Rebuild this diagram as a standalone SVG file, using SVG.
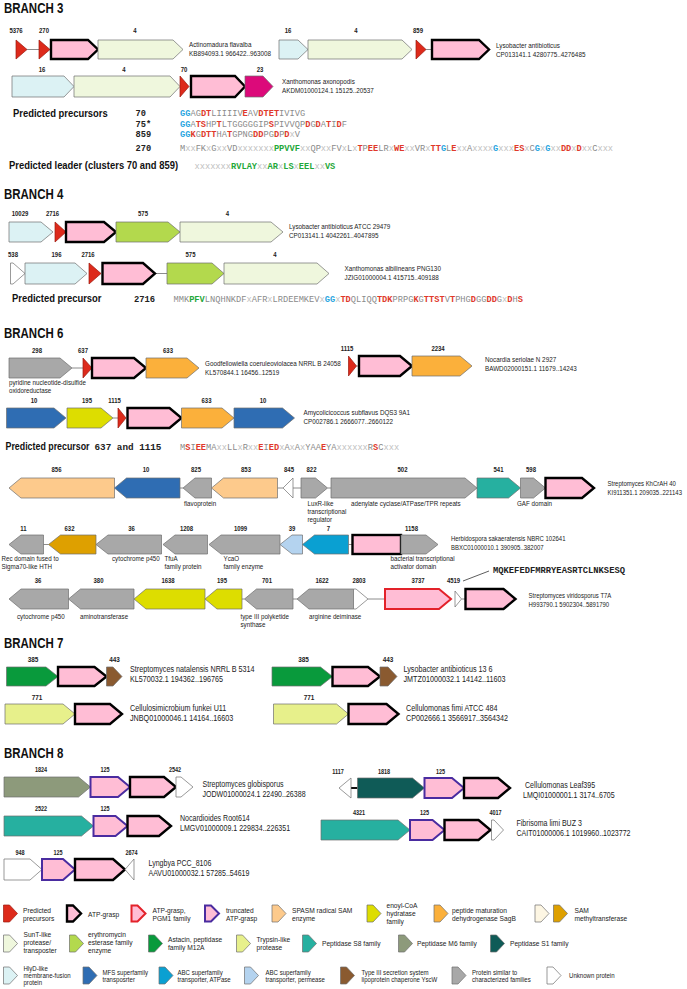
<svg xmlns="http://www.w3.org/2000/svg" width="687" height="989" viewBox="0 0 687 989">
<style>
text{font-family:'Liberation Sans',Arial,sans-serif;fill:#222}
.h,.o,.pb{transform-box:fill-box;transform-origin:0 0;transform:scaleX(.82)}
.s{transform-box:fill-box;transform-origin:0 0;transform:scaleX(.88);font-size:7.1px}
.lg,.lg3{transform-box:fill-box;transform-origin:0 0;transform:scaleX(.95)}
.lg{font-size:7px}
.lg3{font-size:6.4px}
.pb{font-size:11.5px;font-weight:bold;fill:#111}
.n{transform-box:fill-box;transform-origin:50% 0;transform:scaleX(.82);font-weight:bold;text-anchor:middle}
.h{font-size:14px;font-weight:bold;fill:#111}
.n3{font-size:7.3px}.n7{font-size:7.8px}.n8{font-size:6.7px}
.o3{font-size:7.7px}.o6{font-size:7.3px}.o7{font-size:8.8px}.o8{font-size:8.6px}
.m{font-family:'Liberation Mono',monospace;font-size:8.7px;fill:#8a8a8a}
.mb{font-family:'Liberation Mono',monospace;font-weight:bold;fill:#222}
.x{fill:#c0c0c0;font-weight:normal}
.b{fill:#2aa6df;font-weight:bold}
.r{fill:#e0392b;font-weight:bold}
.gr{fill:#1fa83a;font-weight:bold}
polygon,rect{stroke:#6e6e6e;stroke-width:0.7}
.pre{fill:#dd2a1b;stroke:#9b1a10}
.atp{fill:#ffbdd5;stroke:#000;stroke-width:2.4}
.pgm{fill:#ffbdd5;stroke:#e3222a;stroke-width:2}
.tru{fill:#ffbdd5;stroke:#4a2ca0;stroke-width:2}
.sun{fill:#eff7dd}
.hly{fill:#dcf2f4}
.mag{fill:#dc0a7a}
.ery{fill:#b3d94d}
.gry{fill:#a8a8a8}
.sag{fill:#fbb03b}
.mfs{fill:#2f6db3}
.eno{fill:#dddd00}
.spa{fill:#fdca8c}
.s8{fill:#26b0a0}
.sam{fill:#dea000}
.per{fill:#b4d3ef}
.atpase{fill:#0aa0d2}
.ast{fill:#099a3c}
.yscw{fill:#8a5a30}
.try{fill:#e7f08b}
.m6{fill:#8d9a7b}
.s1{fill:#0f5b57}
.unk{fill:#fff}
.cre{fill:#fdf6e3}
.c line{stroke:#6e6e6e;stroke-width:0.8}
</style>

<g id="connectors" class="c">
<line x1="27" y1="49.5" x2="39" y2="49.5"/>
<line x1="426" y1="49.5" x2="432" y2="49.5"/>
<line x1="155" y1="273.5" x2="167" y2="273.5"/>
<line x1="72" y1="368" x2="83" y2="368"/>
<line x1="356.5" y1="366" x2="359" y2="366"/>
<line x1="113" y1="418" x2="118" y2="418"/>
<line x1="180" y1="488" x2="183" y2="488"/>
<line x1="277.5" y1="488" x2="283" y2="488"/>
<line x1="293" y1="488" x2="301" y2="488"/>
<line x1="327.5" y1="488" x2="331" y2="488"/>
<line x1="43.5" y1="544.5" x2="48.5" y2="544.5"/>
<line x1="348.5" y1="544.5" x2="352.5" y2="544.5"/>
<line x1="242" y1="599" x2="244.5" y2="599"/>
<line x1="293" y1="599" x2="297" y2="599"/>
<line x1="368" y1="599" x2="385" y2="599"/>
<line x1="461.5" y1="599" x2="465.5" y2="599"/>
<line x1="463" y1="581" x2="489" y2="571" style="stroke:#333"/>
<line x1="351" y1="788" x2="357.5" y2="788" style="stroke:#111;stroke-width:2"/>
</g>

<!-- BRANCH 3 -->
<text class="h" x="4" y="13.5">BRANCH 3</text>
<g id="b3r1">
<polygon class="pre" points="16,40 27,49.5 16,59"/>
<polygon class="pre" points="39,40 50,49.5 39,59"/>
<polygon class="atp" points="51,40 88,40 98,49.5 88,59 51,59"/>
<polygon class="sun" points="98,40 173,40 183,49.5 173,59 98,59"/>
<text class="n n3" x="16" y="33">5376</text><text class="n n3" x="44" y="33">270</text><text class="n n3" x="135" y="33">4</text>
<text class="o o3" x="189" y="47">Actinomadura flavalba</text><text class="o o3" x="189" y="56">KB894093.1 966422..963008</text>
</g>
<g id="b3r1b">
<polygon class="hly" points="279,40 298,40 308,49.5 298,59 279,59"/>
<polygon class="sun" points="308,40 402,40 412,49.5 402,59 308,59"/>
<polygon class="pre" points="416,40 426,49.5 416,59"/>
<polygon class="atp" points="432,40 479,40 489,49.5 479,59 432,59"/>
<text class="n n3" x="288" y="33">16</text><text class="n n3" x="356" y="33">4</text><text class="n n3" x="418" y="33">859</text>
<text class="o o3" x="496" y="48">Lysobacter antibioticus</text><text class="o o3" x="496" y="57">CP013141.1 4280775..4276485</text>
</g>
<g id="b3r2">
<polygon class="hly" points="12,76 64,76 74,86.5 64,97 12,97"/>
<polygon class="sun" points="74,76 170,76 180,86.5 170,97 74,97"/>
<polygon class="pre" points="180,76 189,86.5 180,97"/>
<polygon class="atp" points="191,76 235,76 245,86.5 235,97 191,97"/>
<polygon class="mag" points="245,76 263,76 273,86.5 263,97 245,97"/>
<text class="n n3" x="42" y="72">16</text><text class="n n3" x="124" y="72">4</text><text class="n n3" x="184" y="72">70</text><text class="n n3" x="260" y="72">23</text>
<text class="o o3" x="282" y="84">Xanthomonas axonopodis</text><text class="o o3" x="282" y="93">AKDM01000124.1 15125..20537</text>
</g>
<g id="b3prec">
<text class="pb" x="13" y="117">Predicted precursors</text>
<text class="mb" x="135.5" y="116" font-size="8.7">70</text>
<text class="mb" x="135.5" y="126.5" font-size="8.7">75*</text>
<text class="mb" x="135.5" y="137" font-size="8.7">859</text>
<text class="mb" x="135.5" y="151" font-size="8.7">270</text>
<text class="m" x="180" y="116"><tspan class="b">GG</tspan>AG<tspan class="r">DT</tspan>LIIIIV<tspan class="r">E</tspan>AV<tspan class="r">DTET</tspan>IVIVG</text>
<text class="m" x="180" y="126.5"><tspan class="b">GG</tspan>A<tspan class="r">TS</tspan>HP<tspan class="r">T</tspan>LTGGGGGIP<tspan class="r">S</tspan>PIVVQP<tspan class="r">D</tspan>G<tspan class="r">D</tspan>A<tspan class="r">T</tspan>I<tspan class="r">D</tspan>F</text>
<text class="m" x="180" y="137"><tspan class="b">GG</tspan><tspan class="r">K</tspan>G<tspan class="r">DTT</tspan>HA<tspan class="r">T</tspan>GPNG<tspan class="r">DD</tspan>PG<tspan class="r">D</tspan>P<tspan class="r">D</tspan><tspan class="x">x</tspan>V</text>
<text class="m" x="180" y="151">M<tspan class="x">xx</tspan>FK<tspan class="x">x</tspan>G<tspan class="x">xx</tspan>VD<tspan class="x">xxxxxxx</tspan><tspan class="gr">PPVVF</tspan><tspan class="x">xx</tspan>QP<tspan class="x">xx</tspan>FV<tspan class="x">x</tspan>L<tspan class="x">x</tspan><tspan class="r">T</tspan>P<tspan class="r">EE</tspan>LR<tspan class="x">x</tspan><tspan class="r">WE</tspan><tspan class="x">xx</tspan>VR<tspan class="x">x</tspan><tspan class="r">TT</tspan><tspan class="b">G</tspan>L<tspan class="r">E</tspan><tspan class="x">xx</tspan>A<tspan class="x">xxxx</tspan><tspan class="b">G</tspan><tspan class="x">xxx</tspan><tspan class="r">ES</tspan><tspan class="x">x</tspan>C<tspan class="b">G</tspan><tspan class="x">x</tspan><tspan class="b">G</tspan><tspan class="x">xx</tspan><tspan class="r">DD</tspan><tspan class="x">x</tspan><tspan class="r">D</tspan><tspan class="x">xx</tspan>C<tspan class="x">xxx</tspan></text>
<text class="pb" x="9" y="169">Predicted leader (clusters 70 and 859)</text>
<text class="m" x="194.5" y="169"><tspan class="x">xxxxxxx</tspan><tspan class="gr">RVLAY</tspan><tspan class="x">xx</tspan><tspan class="gr">AR</tspan><tspan class="x">x</tspan><tspan class="gr">LS</tspan><tspan class="x">x</tspan><tspan class="gr">EEL</tspan><tspan class="x">xx</tspan><tspan class="gr">VS</tspan></text>
</g>

<!-- BRANCH 4 -->
<text class="h" x="4" y="199">BRANCH 4</text>
<g id="b4r1">
<polygon class="hly" points="9,222 41,222 53,232 41,242 9,242"/>
<polygon class="pre" points="55,222 66,232 55,242"/>
<polygon class="atp" points="66,222 104,222 116,232 104,242 66,242"/>
<polygon class="ery" points="116,222 168,222 180,232 168,242 116,242"/>
<polygon class="sun" points="180,222 271,222 283,232 271,242 180,242"/>
<text class="n n3" x="20" y="216">10029</text><text class="n n3" x="52.5" y="216">2716</text><text class="n n3" x="143" y="216">575</text><text class="n n3" x="227.5" y="216">4</text>
<text class="o o3" x="289" y="229">Lysobacter antibioticus ATCC 29479</text><text class="o o3" x="289" y="238">CP013141.1 4042261..4047895</text>
</g>
<g id="b4r2">
<polygon class="unk" points="10.5,263 13,263 25,273.5 13,284 10.5,284"/>
<polygon class="hly" points="25,263 75,263 87,273.5 75,284 25,284"/>
<polygon class="pre" points="89,263 101,273.5 89,284"/>
<polygon class="atp" points="102.5,263 143,263 155,273.5 143,284 102.5,284"/>
<polygon class="ery" points="167,263 212,263 224,273.5 212,284 167,284"/>
<polygon class="sun" points="224,263 317,263 329,273.5 317,284 224,284"/>
<text class="n n3" x="13" y="257">538</text><text class="n n3" x="56.5" y="257">196</text><text class="n n3" x="88" y="257">2716</text><text class="n n3" x="190.5" y="257">575</text><text class="n n3" x="275" y="257">4</text>
<text class="o o3" x="344.5" y="271">Xanthomonas albilineans PNG130</text><text class="o o3" x="344.5" y="280">JZIG01000004.1 415715..409188</text>
</g>
<g id="b4prec">
<text class="pb" x="12" y="302">Predicted precursor</text>
<text class="mb" x="134" y="302" font-size="8.8">2716</text>
<text class="m" x="173.5" y="302">MMK<tspan class="gr">PFV</tspan>LNQHNKDF<tspan class="x">x</tspan>AFR<tspan class="x">x</tspan>LRDEEMKEV<tspan class="x">x</tspan><tspan class="b">GG</tspan><tspan class="x">x</tspan><tspan class="r">TD</tspan>QLIQQ<tspan class="r">TDK</tspan>PRPG<tspan class="r">K</tspan>G<tspan class="r">TTST</tspan>V<tspan class="r">T</tspan>PHG<tspan class="r">D</tspan>GG<tspan class="r">DD</tspan>G<tspan class="x">x</tspan><tspan class="r">D</tspan>H<tspan class="r">S</tspan></text>
</g>

<!-- BRANCH 6 -->
<text class="h" x="4" y="338.5">BRANCH 6</text>
<g id="b6r1">
<polygon class="gry" points="9,358 60,358 72,368 60,378 9,378"/>
<polygon class="pre" points="83,358 92,368 83,378"/>
<polygon class="atp" points="92,358 134,358 146,368 134,378 92,378"/>
<polygon class="sag" points="146,358 187,358 199,368 187,378 146,378"/>
<text class="n n3" x="37" y="353">298</text><text class="n n3" x="83" y="353">637</text><text class="n n3" x="168" y="353">633</text>
<text class="s" x="9" y="385.5">pyridine nucleotide-disulfide</text><text class="s" x="9" y="393.5">oxidoreductase</text>
<text class="o o3" x="205" y="366">Goodfellowiella coeruleoviolacea NRRL B 24058</text><text class="o o3" x="205" y="375">KL570844.1 16456..12519</text>
</g>
<g id="b6r1b">
<polygon class="pre" points="348.5,356 356.5,366 348.5,376"/>
<polygon class="atp" points="359,356 400,356 412,366 400,376 359,376"/>
<polygon class="sag" points="412,356 460,356 472,366 460,376 412,376"/>
<text class="n n3" x="347" y="351">1115</text><text class="n n3" x="438" y="351">2234</text>
<text class="o o3" x="485" y="362">Nocardia seriolae N 2927</text><text class="o o3" x="485" y="371">BAWD02000151.1 11679..14243</text>
</g>
<g id="b6r2">
<polygon class="mfs" points="6.5,408 54,408 66,418 54,428 6.5,428"/>
<polygon class="eno" points="67,408 101,408 113,418 101,428 67,428"/>
<polygon class="pre" points="118,408 126,418 118,428"/>
<polygon class="atp" points="127.5,408 169.5,408 181.5,418 169.5,428 127.5,428"/>
<polygon class="sag" points="181.5,408 222,408 234,418 222,428 181.5,428"/>
<polygon class="mfs" points="234,408 282.5,408 294.5,418 282.5,428 234,428"/>
<text class="n n3" x="34" y="403">10</text><text class="n n3" x="87" y="403">195</text><text class="n n3" x="114.5" y="403">1115</text><text class="n n3" x="206.5" y="403">633</text><text class="n n3" x="263" y="403">10</text>
<text class="o o3" x="303.5" y="415">Amycolicicoccus subflavus DQS3 9A1</text><text class="o o3" x="303.5" y="424">CP002786.1 2666077..2660122</text>
</g>
<g id="b6prec">
<text class="pb" x="5.5" y="450" style="font-size:10.8px">Predicted precursor</text>
<text class="mb" x="94.5" y="450" font-size="9.3">637 and 1115</text>
<text class="m" x="180" y="450">M<tspan class="r">S</tspan>I<tspan class="r">EE</tspan>MA<tspan class="x">xx</tspan>LL<tspan class="x">x</tspan>R<tspan class="x">xx</tspan><tspan class="r">E</tspan>I<tspan class="r">ED</tspan><tspan class="x">x</tspan>A<tspan class="x">x</tspan>A<tspan class="x">x</tspan>YAA<tspan class="r">E</tspan>YA<tspan class="x">xxxxxx</tspan>R<tspan class="r">S</tspan>C<tspan class="x">xxx</tspan></text>
</g>
<g id="b6r3">
<polygon class="spa" points="9,488 21,478 114.5,478 114.5,498 21,498"/>
<polygon class="mfs" points="114.5,488 126.5,478 180,478 180,498 126.5,498"/>
<polygon class="gry" points="183,488 195,478 211.5,478 211.5,498 195,498"/>
<polygon class="spa" points="211.5,488 223.5,478 277.5,478 277.5,498 223.5,498"/>
<polygon class="unk" points="283,488 293,478 293,498"/>
<polygon class="gry" points="301,478 315.5,478 327.5,488 315.5,498 301,498"/>
<polygon class="gry" points="331,478 465,478 477,488 465,498 331,498"/>
<polygon class="s8" points="477,478 508.5,478 520.5,488 508.5,498 477,498"/>
<polygon class="gry" points="520.5,478 533.5,478 545.5,488 533.5,498 520.5,498"/>
<polygon class="atp" points="545.5,478 582,478 594,488 582,498 545.5,498"/>
<text class="n n3" x="56.5" y="472">856</text><text class="n n3" x="146" y="472">10</text><text class="n n3" x="196" y="472">825</text><text class="n n3" x="246" y="472">853</text><text class="n n3" x="289" y="472">845</text><text class="n n3" x="311.5" y="472">822</text><text class="n n3" x="402.5" y="472">502</text><text class="n n3" x="498.5" y="472">541</text><text class="n n3" x="531" y="472">598</text>
<text class="s" x="184" y="506">flavoprotein</text>
<text class="s" x="307.5" y="506">LuxR-like</text><text class="s" x="307.5" y="514">transcriptional</text><text class="s" x="307.5" y="522">regulator</text>
<text class="s" x="351" y="506">adenylate cyclase/ATPase/TPR repeats</text>
<text class="s" x="517" y="506">GAF domain</text>
<text class="o o6" x="607.5" y="486">Streptomyces KhCrAH 40</text><text class="o o6" x="607.5" y="495">KI911351.1 209035..221143</text>
</g>
<g id="b6r4">
<polygon class="gry" points="9,544.5 21,535 43.5,535 43.5,554 21,554"/>
<polygon class="sam" points="48.5,544.5 60.5,535 96,535 96,554 60.5,554"/>
<polygon class="gry" points="96,544.5 108,535 161.5,535 161.5,554 108,554"/>
<polygon class="gry" points="163,544.5 175,535 207.5,535 207.5,554 175,554"/>
<polygon class="gry" points="209,544.5 221,535 280,535 280,554 221,554"/>
<polygon class="per" points="280,544.5 292,535 302.5,535 302.5,554 292,554"/>
<polygon class="atpase" points="302.5,544.5 314.5,535 348.5,535 348.5,554 314.5,554"/>
<rect class="atp" x="352.5" y="535" width="48.5" height="19"/>
<polygon class="gry" points="401,535 426,535 438,544.5 426,554 401,554"/>
<text class="n n3" x="23.5" y="531">11</text><text class="n n3" x="69.5" y="531">632</text><text class="n n3" x="131.5" y="531">36</text><text class="n n3" x="186.5" y="531">1208</text><text class="n n3" x="240.5" y="531">1099</text><text class="n n3" x="292" y="531">39</text><text class="n n3" x="328.5" y="531">7</text><text class="n n3" x="411.5" y="531">1158</text>
<text class="s" x="1.5" y="561">Rec domain fused to</text><text class="s" x="1.5" y="569">Sigma70-like HTH</text>
<text class="s" x="112" y="561">cytochrome p450</text>
<text class="s" x="164.5" y="561">TfuA</text><text class="s" x="164.5" y="569">family protein</text>
<text class="s" x="223.5" y="561">YcaO</text><text class="s" x="223.5" y="569">family enzyme</text>
<text class="s" x="390.5" y="561">bacterial transcriptional</text><text class="s" x="390.5" y="569">activator domain</text>
<text class="o o6" x="451" y="541">Herbidospora sakaeratensis NBRC 102641</text><text class="o o6" x="451" y="550">BBXC01000010.1 390905..382007</text>
</g>
<g id="b6r5">
<polygon class="gry" points="9,599 21,589 68.5,589 68.5,609 21,609"/>
<polygon class="gry" points="68.5,599 80.5,589 134,589 134,609 80.5,609"/>
<polygon class="eno" points="134,599 146,589 205,589 205,609 146,609"/>
<polygon class="eno" points="205,599 217,589 242,589 242,609 217,609"/>
<polygon class="gry" points="244.5,599 256.5,589 293,589 293,609 256.5,609"/>
<polygon class="gry" points="297,599 309,589 353.5,589 353.5,609 309,609"/>
<polygon class="unk" points="353.5,589 356,589 368,599 356,609 353.5,609"/>
<polygon class="pgm" points="385,589 439,589 451,599 439,609 385,609"/>
<polygon class="unk" points="455,591 461.5,599 455,607"/>
<polygon class="atp" points="465.5,589 503.5,589 515.5,599 503.5,609 465.5,609"/>
<text class="n n3" x="38" y="583">36</text><text class="n n3" x="98.5" y="583">380</text><text class="n n3" x="168" y="583">1638</text><text class="n n3" x="222" y="583">195</text><text class="n n3" x="267" y="583">701</text><text class="n n3" x="322" y="583">1622</text><text class="n n3" x="359" y="583">2803</text><text class="n n3" x="418" y="583">3737</text><text class="n n3" x="453.5" y="583">4519</text>
<text class="mb" x="493" y="573" font-size="8.8">MQKEFEDFMRRYEASRTCLNKSESQ</text>
<text class="s" x="17" y="619">cytochrome p450</text>
<text class="s" x="80" y="619">aminotransferase</text>
<text class="s" x="240.5" y="619">type III polyketide</text><text class="s" x="240.5" y="627">synthase</text>
<text class="s" x="309" y="619">arginine deiminase</text>
<text class="o o6" x="528.5" y="598">Streptomyces viridosporus T7A</text><text class="o o6" x="528.5" y="607">H993790.1 5902304..5891790</text>
</g>

<!-- BRANCH 7 -->
<text class="h" x="4" y="648">BRANCH 7</text>
<g id="b7r1">
<polygon class="ast" points="6.5,667 46,667 58,676.5 46,686 6.5,686"/>
<polygon class="atp" points="58,667 94.5,667 106.5,676.5 94.5,686 58,686"/>
<polygon class="yscw" points="106.5,667 113,667 122,676.5 113,686 106.5,686"/>
<text class="n n7" x="33" y="662">385</text><text class="n n7" x="114.5" y="662">443</text>
<text class="o o7" x="130" y="672.5">Streptomyces natalensis NRRL B 5314</text><text class="o o7" x="130" y="682.5">KL570032.1 194362..196765</text>
</g>
<g id="b7r1b">
<polygon class="ast" points="272,667 320.5,667 332.5,676.5 320.5,686 272,686"/>
<polygon class="atp" points="332.5,667 368,667 380,676.5 368,686 332.5,686"/>
<polygon class="yscw" points="380,667 388,667 397,676.5 388,686 380,686"/>
<text class="n n7" x="303.5" y="662">385</text><text class="n n7" x="388" y="662">443</text>
<text class="o o7" x="403.5" y="672.5">Lysobacter antibioticus 13 6</text><text class="o o7" x="403.5" y="682.5">JMTZ01000032.1 14142..11603</text>
</g>
<g id="b7r2">
<polygon class="try" points="5,704 63,704 75,714 63,724 5,724"/>
<polygon class="atp" points="75,704 110,704 122,714 110,724 75,724"/>
<text class="n n7" x="37" y="700">771</text>
<text class="o o7" x="130" y="711.5">Cellulosimicrobium funkei U11</text><text class="o o7" x="130" y="721.5">JNBQ01000046.1 14164..16603</text>
</g>
<g id="b7r2b">
<polygon class="try" points="273.5,704 336.5,704 348.5,714 336.5,724 273.5,724"/>
<polygon class="atp" points="348.5,704 386.5,704 398.5,714 386.5,724 348.5,724"/>
<text class="n n7" x="309" y="700">771</text>
<text class="o o7" x="406" y="711.5">Cellulomonas fimi ATCC 484</text><text class="o o7" x="406" y="721.5">CP002666.1 3566917..3564342</text>
</g>

<!-- BRANCH 8 -->
<text class="h" x="4" y="758">BRANCH 8</text>
<g id="b8r1">
<polygon class="m6" points="4,777 78.5,777 90.5,787 78.5,797 4,797"/>
<polygon class="tru" points="90.5,777 118,777 130,787 118,797 90.5,797"/>
<polygon class="atp" points="130,777 164,777 176,787 164,797 130,797"/>
<polygon class="unk" points="176,777 181,777 193,787 181,797 176,797"/>
<text class="n n8" x="41" y="772">1824</text><text class="n n8" x="105" y="772">125</text><text class="n n8" x="175" y="772">2542</text>
<text class="o o8" x="202.5" y="787.5">Streptomyces globisporus</text><text class="o o8" x="202.5" y="797.2">JODW01000024.1 22490..26388</text>
</g>
<g id="b8r1b">
<polygon class="unk" points="339,788 351,778 351,798"/>
<polygon class="s1" points="357.5,778 412.5,778 424.5,788 412.5,798 357.5,798"/>
<polygon class="tru" points="424.5,778 452,778 464,788 452,798 424.5,798"/>
<polygon class="atp" points="464,778 498,778 510,788 498,798 464,798"/>
<text class="n n8" x="338" y="774">1117</text><text class="n n8" x="384" y="774">1818</text><text class="n n8" x="440.5" y="774">125</text>
<text class="o o8" x="525" y="788.5">Cellulomonas Leaf395</text><text class="o o8" x="523" y="798.2">LMQI01000001.1 3174..6705</text>
</g>
<g id="b8r2">
<polygon class="s8" points="4,816 81.5,816 93.5,826 81.5,836 4,836"/>
<polygon class="tru" points="93.5,816 115.5,816 127.5,826 115.5,836 93.5,836"/>
<polygon class="atp" points="127.5,816 159,816 171,826 159,836 127.5,836"/>
<text class="n n8" x="41" y="811">2522</text><text class="n n8" x="105" y="811">125</text>
<text class="o o8" x="180" y="821.5">Nocardioides Root614</text><text class="o o8" x="180" y="831.2">LMGV01000009.1 229834..226351</text>
</g>
<g id="b8r2b">
<polygon class="s8" points="321,820 398,820 410,830 398,840 321,840"/>
<polygon class="tru" points="410,820 432.5,820 444.5,830 432.5,840 410,840"/>
<polygon class="atp" points="444.5,820 478.5,820 490.5,830 478.5,840 444.5,840"/>
<polygon class="unk" points="491.5,820 494,820 503.5,830 494,840 491.5,840"/>
<text class="n n8" x="359" y="815">4321</text><text class="n n8" x="424.5" y="815">125</text><text class="n n8" x="495.5" y="815">4017</text>
<text class="o o8" x="516.5" y="826.5">Fibrisoma limi BUZ 3</text><text class="o o8" x="516.5" y="836.2">CAIT01000006.1 1019960..1023772</text>
</g>
<g id="b8r3">
<polygon class="unk" points="4,859 30,859 42,869.5 30,880 4,880"/>
<polygon class="tru" points="42,859 63,859 75,869.5 63,880 42,880"/>
<polygon class="atp" points="75,859 113,859 125,869.5 113,880 75,880"/>
<polygon class="unk" points="125,869.5 134,859 134,880"/>
<text class="n n8" x="20" y="855">948</text><text class="n n8" x="58" y="855">125</text><text class="n n8" x="131.5" y="855">2674</text>
<text class="o o8" x="148.5" y="866.5">Lyngbya PCC_8106</text><text class="o o8" x="148.5" y="876.2">AAVU01000032.1 57285..54619</text>
</g>

<!-- LEGEND -->
<g id="legend">
<polygon class="pre" points="3.5,905 9.5,905 17.5,913.5 9.5,922 3.5,922"/>
<text class="lg" x="23" y="913.5">Predicted</text><text class="lg" x="23" y="921.5">precursors</text>
<polygon class="atp" points="67,905.5 73,905.5 81,913.5 73,921.5 67,921.5"/>
<text class="lg" x="88" y="917.5">ATP-grasp</text>
<polygon class="pgm" points="131.5,905.5 137.5,905.5 145.5,913.5 137.5,921.5 131.5,921.5"/>
<text class="lg" x="152.5" y="913.5">ATP-grasp,</text><text class="lg" x="152.5" y="921.5">PGM1 family</text>
<polygon class="tru" points="205,905.5 211,905.5 219,913.5 211,921.5 205,921.5"/>
<text class="lg" x="226" y="913.5">truncated</text><text class="lg" x="226" y="921.5">ATP-grasp</text>
<polygon class="spa" points="272,905 278,905 286,913.5 278,922 272,922"/>
<text class="lg" x="292" y="913.5">SPASM radical SAM</text><text class="lg" x="292" y="921.5">enzyme</text>
<polygon class="eno" points="367,905 373,905 381,913.5 373,922 367,922"/>
<text class="lg" x="386.5" y="908.5">enoyl-CoA</text><text class="lg" x="386.5" y="916.5">hydratase</text><text class="lg" x="386.5" y="924.5">family</text>
<polygon class="sag" points="434,905 440,905 448,913.5 440,922 434,922"/>
<text class="lg" x="452" y="913.5">peptide maturation</text><text class="lg" x="452" y="921.5">dehydrogenase SagB</text>
<polygon class="cre" points="535,905 541,905 549,913.5 541,922 535,922"/>
<polygon class="sam" points="553.5,905 559.5,905 567.5,913.5 559.5,922 553.5,922"/>
<text class="lg" x="574.5" y="913.5">SAM</text><text class="lg" x="574.5" y="921.5">methyltransferase</text>

<polygon class="sun" points="3.5,935 9.5,935 17.5,943.5 9.5,952 3.5,952"/>
<text class="lg" x="23.5" y="937">SunT-like</text><text class="lg" x="23.5" y="945">protease/</text><text class="lg" x="23.5" y="953">transposter</text>
<polygon class="ery" points="69.5,935 75.5,935 83.5,943.5 75.5,952 69.5,952"/>
<text class="lg" x="88" y="937">erythromycin</text><text class="lg" x="88" y="945">esterase family</text><text class="lg" x="88" y="953">enzyme</text>
<polygon class="ast" points="148.5,935 154.5,935 162.5,943.5 154.5,952 148.5,952"/>
<text class="lg" x="168" y="942">Astacin, peptidase</text><text class="lg" x="168" y="950">family M12A</text>
<polygon class="try" points="236.5,935 242.5,935 250.5,943.5 242.5,952 236.5,952"/>
<text class="lg" x="256.5" y="942">Trypsin-like</text><text class="lg" x="256.5" y="950">protease</text>
<polygon class="s8" points="302.5,935 308.5,935 316.5,943.5 308.5,952 302.5,952"/>
<text class="lg" x="322" y="946">Peptidase S8 family</text>
<polygon class="m6" points="398.5,935 404.5,935 412.5,943.5 404.5,952 398.5,952"/>
<text class="lg" x="417" y="946">Peptidase M6 family</text>
<polygon class="s1" points="490.5,935 496.5,935 504.5,943.5 496.5,952 490.5,952"/>
<text class="lg" x="510" y="946">Peptidase S1 family</text>

<polygon class="hly" points="3.5,967 9.5,967 17.5,975.5 9.5,984 3.5,984"/>
<text class="lg3" x="23.5" y="971">HlyD-like</text><text class="lg3" x="23.5" y="978.2">membrane-fusion</text><text class="lg3" x="23.5" y="985.4">protein</text>
<polygon class="mfs" points="83,967 89,967 97,975.5 89,984 83,984"/>
<text class="lg3" x="102.5" y="975">MFS superfamily</text><text class="lg3" x="102.5" y="982.2">transposrter</text>
<polygon class="atpase" points="159,967 165,967 173,975.5 165,984 159,984"/>
<text class="lg3" x="177.5" y="975">ABC superfamily</text><text class="lg3" x="177.5" y="982.2">transporter, ATPase</text>
<polygon class="per" points="244.5,967 250.5,967 258.5,975.5 250.5,984 244.5,984"/>
<text class="lg3" x="265.5" y="975">ABC superfamily</text><text class="lg3" x="265.5" y="982.2">transporter, permease</text>
<polygon class="yscw" points="340.5,967 346.5,967 354.5,975.5 346.5,984 340.5,984"/>
<text class="lg3" x="361.5" y="975">Type III secretion system</text><text class="lg3" x="361.5" y="982.2">lipoprotein chaperone YscW</text>
<polygon class="gry" points="452,967 458,967 466,975.5 458,984 452,984"/>
<text class="lg3" x="472" y="975">Protein similar to</text><text class="lg3" x="472" y="982.2">characterized families</text>
<polygon class="unk" points="547,967 553,967 561,975.5 553,984 547,984"/>
<text class="lg3" x="569" y="978.5">Unknown protein</text>
</g>
</svg>
